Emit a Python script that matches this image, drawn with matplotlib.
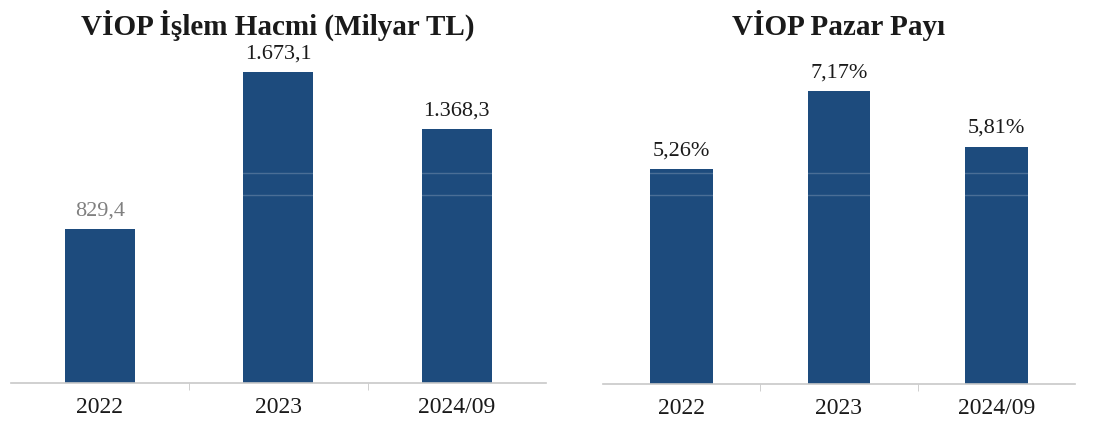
import matplotlib.pyplot as plt
from matplotlib.lines import Line2D

# data
years = ["2022", "2023", "2024/09"]
hacim = [829.4, 1673.1, 1368.3]
hacim_lbl = ["829,4", "1.673,1", "1.368,3"]
pay = [5.26, 7.17, 5.81]
pay_lbl = ["5,26%", "7,17%", "5,81%"]

bar_col = "#1d4b7d"
plt.rcParams["font.family"] = ["Liberation Serif", "DejaVu Serif"]

fig = plt.figure(figsize=(10.98, 4.26), dpi=100)
W, H = 1098, 426

def px_axes(x0, x1, ytop, ybot):
    return fig.add_axes([x0 / W, 1 - ybot / H, (x1 - x0) / W, (ybot - ytop) / H])

ax1 = px_axes(10.5, 546, 48.4, 383)
ax2 = px_axes(603, 1075, 69.3, 384)

def style(ax, ymax):
    ax.set_xlim(-0.5, 2.5)
    ax.set_ylim(0, ymax)
    for s in ["top", "right", "left"]:
        ax.spines[s].set_visible(False)
    ax.spines["bottom"].set_color("#c8c8c8")
    ax.spines["bottom"].set_linewidth(1.2)
    ax.set_yticks([])
    ax.set_xticks(range(3))
    ax.set_xticklabels(years, fontsize=17, color="#1a1a1a")
    ax.tick_params(axis="x", length=0, pad=10)
    ax.set_xticks([0.5, 1.5], minor=True)
    ax.tick_params(axis="x", which="minor", length=5, color="#c8c8c8", direction="out")
    ax.patch.set_alpha(0)

style(ax1, 1800)
style(ax2, 7.7)

ax1.bar(range(3), hacim, width=0.39, color=bar_col)
ax2.bar(range(3), pay, width=0.4, color=bar_col)

lbl_cols1 = ["#808080", "#1a1a1a", "#1a1a1a"]
for i, (v, t) in enumerate(zip(hacim, hacim_lbl)):
    ax1.annotate(t, (i, v), xytext=(0, 9.5), textcoords="offset points",
                 ha="center", va="baseline", fontsize=16, color=lbl_cols1[i],
                 annotation_clip=False)
for i, (v, t) in enumerate(zip(pay, pay_lbl)):
    ax2.annotate(t, (i, v), xytext=(0, 10), textcoords="offset points",
                 ha="center", va="baseline", fontsize=16, color="#1a1a1a",
                 annotation_clip=False)

fig.text(278 / W, 1 - 35 / H, "VİOP İşlem Hacmi (Milyar TL)", ha="center",
         va="baseline", fontsize=21, fontweight="bold", color="#1a1a1a")
fig.text(839 / W, 1 - 35 / H, "VİOP Pazar Payı", ha="center",
         va="baseline", fontsize=21, fontweight="bold", color="#1a1a1a")

# faint scan lines across the page
for yy in [172.7, 195]:
    fig.add_artist(Line2D([0, 1], [1 - yy / H] * 2, color="white", alpha=0.2,
                          lw=1.0, transform=fig.transFigure))

fig.savefig("out.png", dpi=100)
